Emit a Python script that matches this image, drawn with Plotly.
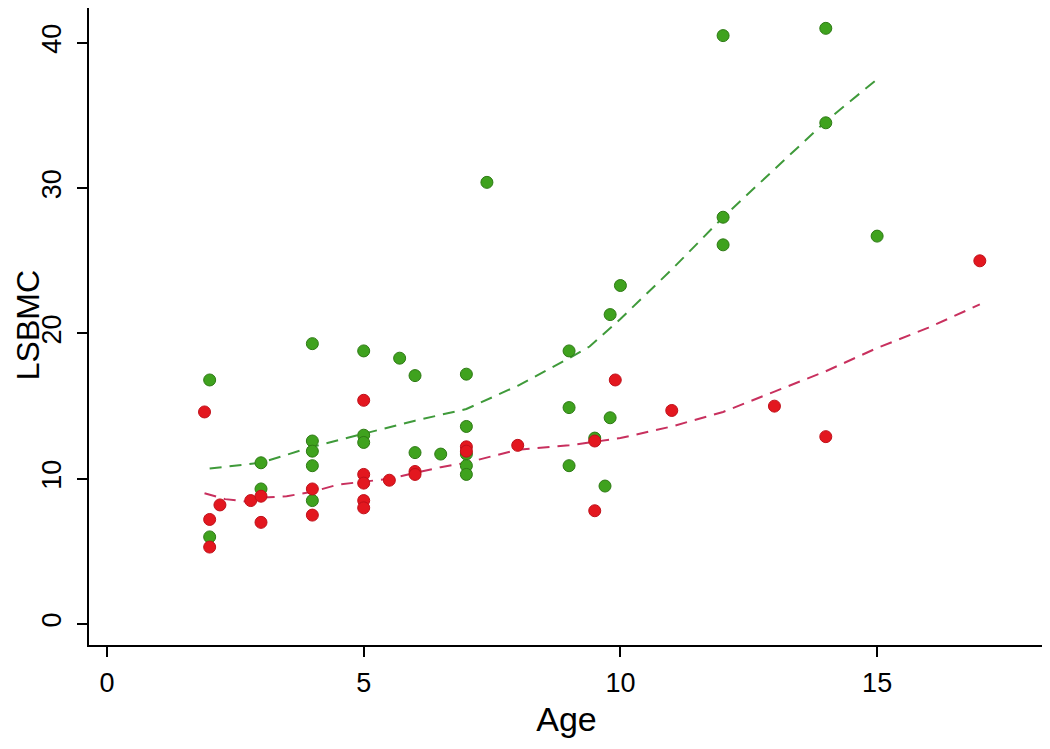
import plotly.graph_objects as go

# Green group (scatter)
green_age = [2, 2, 3, 3, 4, 4, 4, 4, 4, 5, 5, 5, 5.7, 6, 6, 6.5, 7, 7, 7, 7, 7,
             7.4, 9, 9, 9, 9.5, 9.7, 9.8, 9.8, 10, 12, 12, 12, 14, 14, 15]
green_lsbmc = [16.8, 6.0, 11.1, 9.3, 19.3, 12.6, 11.9, 10.9, 8.5, 18.8, 13.0, 12.5, 18.3, 17.1, 11.8, 11.7,
               17.2, 13.6, 11.7, 10.9, 10.3, 30.4, 18.8, 14.9, 10.9, 12.8, 9.5, 14.2, 21.3, 23.3,
               40.5, 28.0, 26.1, 41.0, 34.5, 26.7]

# Red group (scatter)
red_age = [1.9, 2.2, 2.0, 2.0, 2.8, 3, 3, 4, 4, 5, 5, 5, 5, 5, 5.5, 6, 6, 7, 7, 8,
           9.5, 9.5, 9.9, 11, 13, 14, 17]
red_lsbmc = [14.6, 8.2, 7.2, 5.3, 8.5, 8.8, 7.0, 9.3, 7.5, 15.4, 10.3, 9.7, 8.5, 8.0, 9.9, 10.5, 10.3,
             12.2, 11.9, 12.3, 7.8, 12.6, 16.8, 14.7, 15.0, 12.9, 25.0]

# Fitted curves
green_fit_age = [2, 3, 4, 5, 6, 7, 8, 9, 9.4, 10, 11, 12, 13, 14, 15]
green_fit_val = [10.7, 11.1, 12.2, 13.1, 14.0, 14.8, 16.4, 18.3, 19.1, 21.0, 24.4, 28.0, 31.3, 34.6, 37.5]
red_fit_age = [1.9, 2.3, 2.8, 3, 3.5, 4, 4.5, 5, 5.5, 6, 6.5, 7, 8, 9, 10, 11, 12, 13, 14, 15, 16, 17]
red_fit_val = [9.0, 8.6, 8.4, 8.7, 8.8, 9.1, 9.6, 9.8, 10.0, 10.4, 10.8, 11.1, 12.0, 12.3, 12.8, 13.6,
               14.6, 16.0, 17.4, 19.0, 20.4, 22.0]

x_ticks = [0, 5, 10, 15]
y_ticks = [0, 10, 20, 30, 40]

GREEN = "#3fa21e"
RED = "#e3171f"
FONT = "Liberation Sans, Arial, sans-serif"

fig = go.Figure()
fig.add_trace(go.Scatter(x=green_fit_age, y=green_fit_val, mode="lines",
                         line=dict(color="#3f9a3a", width=2, dash="12px,8px"), showlegend=False))
fig.add_trace(go.Scatter(x=red_fit_age, y=red_fit_val, mode="lines",
                         line=dict(color="#c8305e", width=2, dash="12px,8px"), showlegend=False))
fig.add_trace(go.Scatter(x=green_age, y=green_lsbmc, mode="markers",
                         marker=dict(color=GREEN, size=12, line=dict(color="#2d7a14", width=1)),
                         showlegend=False))
fig.add_trace(go.Scatter(x=red_age, y=red_lsbmc, mode="markers",
                         marker=dict(color=RED, size=12, line=dict(color="#c0101a", width=1)),
                         showlegend=False))

fig.update_layout(
    width=1050, height=749,
    margin=dict(l=81, r=14, t=0, b=112),
    paper_bgcolor="white", plot_bgcolor="white",
    font=dict(family=FONT, color="black", size=27),
    xaxis=dict(
        range=[-0.35, 18.25], tickvals=x_ticks, ticktext=[str(v) for v in x_ticks],
        showline=True, linecolor="black", linewidth=2, mirror=False,
        ticks="outside", ticklen=10, tickwidth=2, tickcolor="black",
        ticklabelstandoff=3, automargin=False,
        showgrid=False, zeroline=False,
        title=dict(text="Age", font=dict(size=34), standoff=10),
        tickfont=dict(size=27),
    ),
    yaxis=dict(
        range=[-1.44, 42.4], tickvals=y_ticks, ticktext=[str(v) for v in y_ticks],
        showline=True, linecolor="black", linewidth=2, mirror=False,
        ticks="outside", ticklen=10, tickwidth=2, tickcolor="black",
        tickangle=-90, ticklabelstandoff=5, automargin=False,
        showgrid=False, zeroline=False,
        tickfont=dict(size=27),
    ),
    annotations=[dict(
        text="LSBMC", xref="paper", yref="paper", x=-0.0639, y=0.502,
        xanchor="center", yanchor="middle", textangle=-90, showarrow=False,
        font=dict(size=32, family=FONT, color="black"),
    )],
)

fig.write_html("out.html")
